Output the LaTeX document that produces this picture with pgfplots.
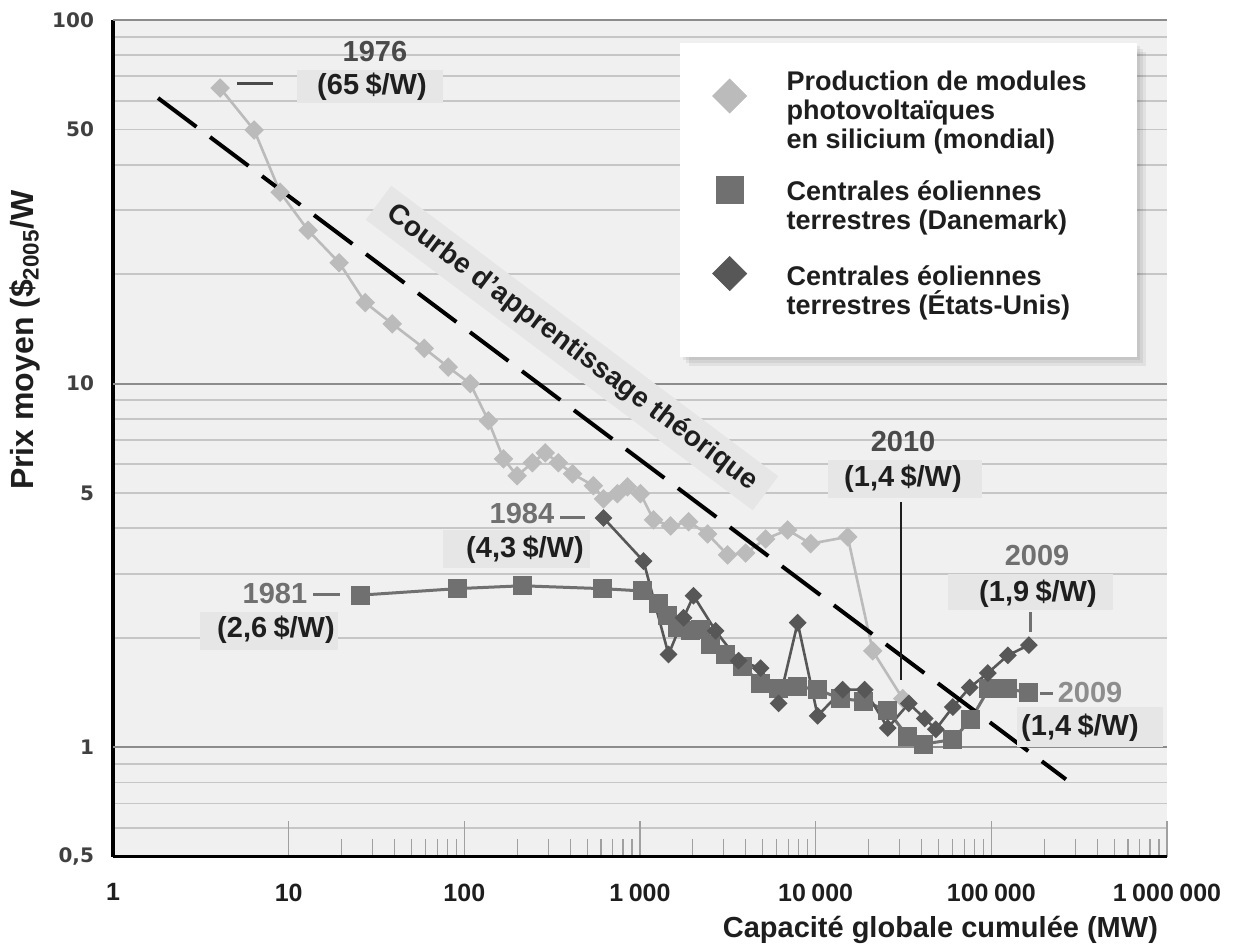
\documentclass[border=0pt]{standalone}
\usepackage{pgfplots}
\usepackage{pgfplotstable}
\pgfplotsset{compat=1.18}
\usepackage{fontspec}
\setmainfont{Liberation Sans}
\newfontfamily\dejavu{DejaVu Sans}
\definecolor{bgc}{HTML}{F0F0F0}
\definecolor{boxc}{HTML}{E6E6E6}
\definecolor{gridl}{HTML}{C6C6C6}
\definecolor{gridd}{HTML}{8C8C8C}
\definecolor{pvc}{HTML}{BBBBBB}
\definecolor{dkc}{HTML}{707070}
\definecolor{usc}{HTML}{575757}
\definecolor{yearc}{HTML}{707070}
\definecolor{yeard}{HTML}{4A4A4A}
\definecolor{txt}{HTML}{1E1E1E}
\definecolor{tickc}{HTML}{A0A0A0}

\pgfplotstableread{
x y
4.07 65
6.36 49.8
8.94 33.6
12.9 26.4
19.4 21.5
27.3 16.7
38.9 14.6
59.2 12.5
81.0 11.1
108 10.0
137 7.91
167 6.21
200 5.58
244 6.06
289 6.45
343 6.06
413 5.65
543 5.24
620 4.82
744 4.98
849 5.20
1006 4.98
1194 4.22
1492 4.06
1890 4.17
2424 3.86
3152 3.38
3992 3.42
5190 3.74
6927 3.96
9365 3.63
15220 3.79
21120 1.84
31310 1.36
}\pvdata

\pgfplotstableread{
x y
25.6 2.62
90.9 2.73
213 2.78
609 2.73
1029 2.69
1275 2.48
1435 2.30
1636 2.14
1940 2.09
2212 2.11
2522 1.92
3070 1.80
3837 1.67
4861 1.50
6156 1.45
7898 1.47
10265 1.44
13885 1.36
18770 1.34
25730 1.26
33440 1.07
41250 1.02
60350 1.05
76400 1.19
96800 1.45
124200 1.45
163600 1.41
}\dkdata

\pgfplotstableread{
x y
620 4.27
1047 3.25
1454 1.80
1770 2.27
2017 2.61
2693 2.09
3641 1.73
4861 1.65
6156 1.32
7898 2.20
10265 1.22
14250 1.44
19020 1.44
25730 1.13
33880 1.32
41790 1.20
48290 1.12
60350 1.29
75430 1.46
95520 1.60
124200 1.79
163600 1.91
}\usdata

\newcommand\ann{\fontsize{14.5}{16}\selectfont\bfseries}
\newcommand\ts{\hspace{0.22em}}

\begin{document}
\begin{tikzpicture}
\begin{axis}[
  scale only axis, width=527pt, height=418.35pt,
  xmode=log, ymode=log,
  xmin=1, xmax=1000000, ymin=0.5, ymax=100,
  clip=false,
  axis x line*=bottom, axis y line*=left,
  x axis line style={-, line width=1.5pt, black},
  y axis line style={-, line width=2pt, black},
  axis background/.style={fill=bgc},
  xtick={1,10,100,1000,10000,100000,1000000},
  xticklabels={1,10,100,1\ts000,10\ts000,100\ts000,1\ts000\ts000},
  minor xtick={20,30,40,50,60,70,80,90,200,300,400,500,600,700,800,900,2000,3000,4000,5000,6000,7000,8000,9000,20000,30000,40000,50000,60000,70000,80000,90000,200000,300000,400000,500000,600000,700000,800000,900000},
  tick align=inside,
  major tick length=18pt, minor tick length=9pt,
  xtick style={tickc, line width=0.6pt},
  ytick={0.5,0.6,0.7,0.8,0.9,2,3,4,5,6,7,8,9,20,30,40,50,60,70,80,90},
  yticklabels={{0,5},,,,,,,,5,,,,,,,,50,,,,},
  ytick style={draw=none},
  ymajorgrids, major grid style={gridl, line width=0.9pt},
  extra y ticks={1,10,100},
  extra y tick labels={1,10,100},
  extra y tick style={grid=major, major grid style={gridd, line width=1.1pt}, major tick length=0pt},
  xticklabel style={font=\fontsize{12.5}{15}\selectfont\bfseries, text=txt, yshift=-10pt},
  yticklabel style={font=\dejavu\fontsize{10}{12}\selectfont\bfseries, text=txt!85, xshift=-6pt},
  legend style={at={(rel axis cs:0.5686,0.9438)}, anchor=north west, draw=none, fill=none,
    inner sep=0pt, row sep=10pt, column sep=18pt,
    font=\fontsize{13.5}{14.5}\selectfont\bfseries, text=txt,
    cells={anchor=base west, align=left}},
]
% legend box with soft shadow
\fill[black, opacity=0.06] (rel axis cs:0.54080,0.59364) rectangle (rel axis cs:0.97439,0.96893);
\fill[black, opacity=0.06] (rel axis cs:0.54364,0.59006) rectangle (rel axis cs:0.97723,0.96535);
\fill[black, opacity=0.06] (rel axis cs:0.54649,0.58647) rectangle (rel axis cs:0.98008,0.96176);
\fill[white] (rel axis cs:0.53795,0.59723) rectangle (rel axis cs:0.97154,0.97252);

\addplot[forget plot, pvc, line width=1.3pt, mark=square*, mark size=2.8pt,
  mark options={rotate=45, fill=pvc, draw=pvc}] table {\pvdata};
\addplot[forget plot, dkc, line width=1.5pt, mark=square*, mark size=4pt,
  mark options={fill=dkc, draw=dkc}] table {\dkdata};
\addplot[forget plot, usc, line width=1.3pt, mark=square*, mark size=2.5pt,
  mark options={rotate=45, fill=usc, draw=usc}] table {\usdata};
\addplot[forget plot, black, line width=2pt, dash pattern=on 24pt off 8.5pt]
  coordinates {(1.805,61) (265800,0.816)};

\addlegendimage{only marks, mark=square*, mark size=6pt, mark options={yshift=26.5pt, rotate=45, fill=pvc, draw=pvc}}
\addlegendentry{Production de modules\\photovoltaïques\\en silicium (mondial)}
\addlegendimage{only marks, mark=square*, mark size=6.8pt, mark options={yshift=20pt, fill=dkc, draw=dkc}}
\addlegendentry{Centrales éoliennes\\terrestres (Danemark)}
\addlegendimage{only marks, mark=square*, mark size=6pt, mark options={yshift=20.5pt, rotate=45, fill=usc, draw=usc}}
\addlegendentry{Centrales éoliennes\\terrestres (États-Unis)}
\end{axis}

\begin{scope}[x=0.5pt, y=-0.5pt, shift={(-56.5pt,428.35pt)}]
  % boxes
  \node[fill=boxc, minimum width=73pt, minimum height=16.5pt, inner sep=0pt] at (370,86.5) {};
  \node[fill=boxc, minimum width=73.5pt, minimum height=19pt, inner sep=0pt] at (516.5,549) {};
  \node[fill=boxc, minimum width=69pt, minimum height=19pt, inner sep=0pt] at (269,631) {};
  \node[fill=boxc, minimum width=77pt, minimum height=19pt, inner sep=0pt] at (905,479) {};
  \node[fill=boxc, minimum width=82.5pt, minimum height=18pt, inner sep=0pt] at (1030,592) {};
  \node[fill=boxc, minimum width=73pt, minimum height=20pt, inner sep=0pt] at (1090,727) {};
  % value texts
  \node[text=txt, font=\ann] at (372,87) {(65\ts\$/W)};
  \node[text=txt, font=\ann] at (525,550) {(4,3\ts\$/W)};
  \node[text=txt, font=\ann] at (276,630) {(2,6\ts\$/W)};
  \node[text=txt, font=\ann] at (903,479) {(1,4\ts\$/W)};
  \node[text=txt, font=\ann] at (1038,594) {(1,9\ts\$/W)};
  \node[text=txt, font=\ann] at (1080,728) {(1,4\ts\$/W)};
  % years
  \node[text=yeard, font=\ann] at (375,52) {1976};
  \node[text=yearc, font=\ann] at (522,514) {1984};
  \node[text=yearc, font=\ann] at (275,594) {1981};
  \node[text=yeard, font=\ann] at (903,442) {2010};
  \node[text=yearc, font=\ann] at (1037,556) {2009};
  \node[text=yearc!80, font=\ann] at (1090,693) {2009};
  % leaders
  \draw[yeard, line width=1.5pt] (237,84) -- (273,84);
  \draw[yearc, line width=1.5pt] (560,517) -- (585,517);
  \draw[yearc, line width=1.5pt] (313,594) -- (340,594);
  \draw[txt, line width=0.8pt] (901,502) -- (901,680);
  \draw[yearc, line width=1.5pt] (1030,612) -- (1030,632);
  \draw[yearc, line width=1.5pt] (1040,693) -- (1053,693);
  % learning curve label
  \node[fill=boxc, text=txt, font=\fontsize{14}{16}\selectfont\bfseries, rotate=-36.9, inner xsep=7pt, inner ysep=4pt] at (572,348) {Courbe d’apprentissage théorique};
  % axis titles
  \node[text=txt, font=\fontsize{14.5}{16}\selectfont\bfseries, anchor=east] at (1165,930) {Capacité globale cumulée (MW)};
  \node[text=txt, font=\fontsize{16}{18}\selectfont\bfseries, rotate=90] at (25,340) {Prix moyen (\$\textsubscript{2005}/W};
\end{scope}

\pgfresetboundingbox
\path[use as bounding box] (-56.5pt,-46.15pt) rectangle (562pt,428.35pt);
\end{tikzpicture}
\end{document}
